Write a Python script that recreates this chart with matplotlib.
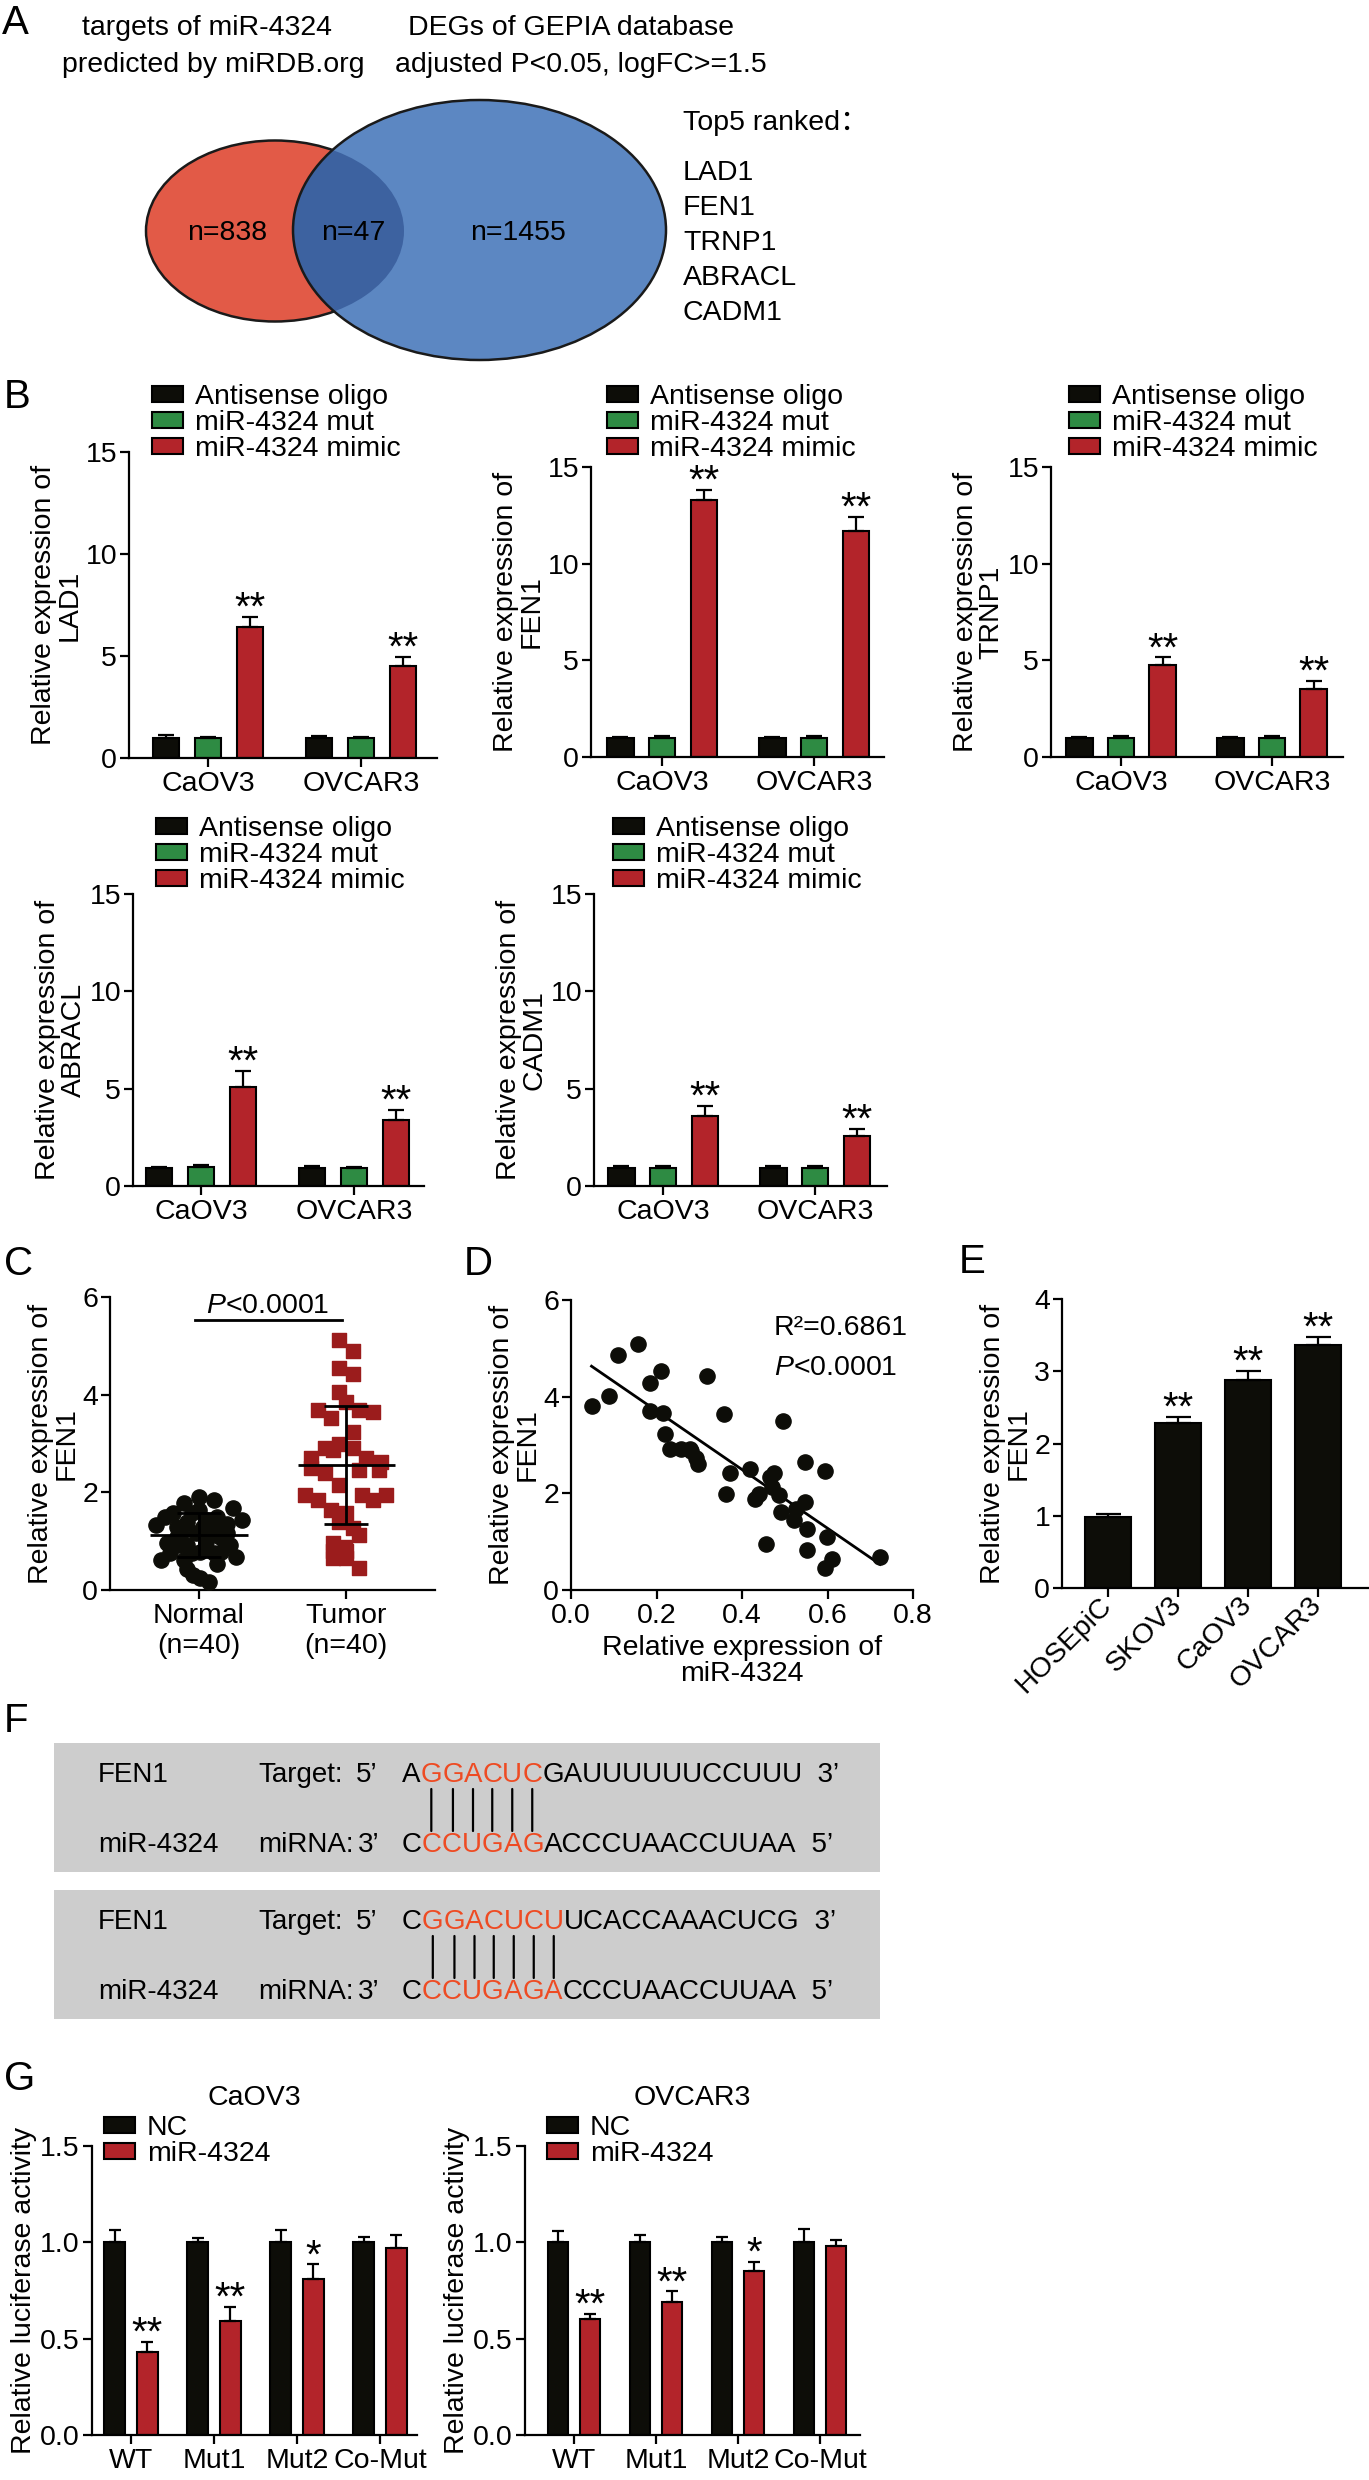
import numpy as np
import matplotlib
matplotlib.use('Agg')
import matplotlib.pyplot as plt
from matplotlib.patches import Ellipse, Rectangle

# ==========================================
# DATA
# ==========================================

venn_titles = ["targets of miR-4324\npredicted by miRDB.org",
               "DEGs of GEPIA database\nadjusted P<0.05, logFC>=1.5"]
venn_counts = [838, 47, 1455]
top5_genes = ["LAD1", "FEN1", "TRNP1", "ABRACL", "CADM1"]

b_groups = ["CaOV3", "OVCAR3"]
b_series = ["Antisense oligo", "miR-4324 mut", "miR-4324 mimic"]
b_genes = ["LAD1", "FEN1", "TRNP1", "ABRACL", "CADM1"]
# rows: antisense, mut, mimic ; columns: CaOV3, OVCAR3
lad1_mean = [[1.0, 0.98], [1.0, 1.0], [6.4, 4.5]]
lad1_err = [[0.12, 0.1], [0.05, 0.05], [0.5, 0.45]]
fen1_mean = [[1.0, 1.0], [1.0, 1.0], [13.3, 11.7]]
fen1_err = [[0.05, 0.05], [0.07, 0.07], [0.5, 0.7]]
trnp1_mean = [[1.0, 1.0], [1.0, 1.0], [4.75, 3.5]]
trnp1_err = [[0.05, 0.05], [0.1, 0.08], [0.4, 0.45]]
abracl_mean = [[0.95, 0.95], [1.0, 0.9], [5.1, 3.4]]
abracl_err = [[0.05, 0.08], [0.08, 0.1], [0.8, 0.5]]
cadm1_mean = [[0.95, 0.95], [0.92, 0.95], [3.6, 2.55]]
cadm1_err = [[0.08, 0.08], [0.1, 0.08], [0.5, 0.4]]

c_groups = ["Normal\n(n=40)", "Tumor\n(n=40)"]
normal_fen1 = [1.91, 1.84, 1.78, 1.67, 1.57, 1.43, 1.33, 1.64, 1.5, 1.4,
               1.36, 1.29, 1.29, 1.16, 1.23, 1.16, 0.96, 0.92, 0.99, 0.92,
               1.09, 0.68, 0.61, 0.61, 0.78, 0.75, 0.75, 0.44, 0.31, 0.24,
               0.17, 0.75, 0.54, 1.09, 1.43, 1.57, 1.16, 1.5, 0.92, 0.78]
normal_jit = [0, 0.1, -0.1, 0.23, -0.18, 0.29, -0.29, 0, 0.12, -0.08,
              0.19, -0.15, 0.03, -0.02, 0.1, -0.12, -0.22, -0.08, 0.05, 0.21,
              0.14, 0.25, -0.26, -0.1, 0.01, 0.1, -0.05, -0.08, -0.04, 0.01,
              0.07, -0.2, 0.12, -0.15, 0.05, -0.05, 0.19, -0.23, -0.13, 0.15]
tumor_fen1 = [5.11, 4.9, 4.54, 4.43, 4.06, 3.86, 3.69, 3.69, 3.65, 3.52,
              3.24, 3.0, 2.9, 2.9, 2.87, 2.7, 2.7, 2.63, 2.49, 2.39,
              2.46, 2.46, 2.15, 1.94, 1.84, 1.94, 1.84, 1.94, 1.64, 1.57,
              1.4, 1.26, 1.13, 0.96, 0.89, 0.65, 0.65, 0.45, 0.79, 0.79]
tumor_jit = [-0.05, 0.045, -0.045, 0.045, -0.045, 0, -0.19, 0.09, 0.185, -0.1,
             0.045, -0.045, -0.146, 0.045, -0.09, -0.236, 0.135, 0.235, -0.236, -0.146,
             0.09, 0.225, -0.045, -0.28, -0.19, 0.11, 0.18, 0.27, -0.1, 0,
             -0.045, 0.045, 0.09, -0.09, -0.01, -0.09, 0, 0.09, -0.09, 0]
c_mean = [1.13, 2.56]
c_sd = [0.45, 1.21]

d_mir = [0.048, 0.089, 0.11, 0.157, 0.184, 0.21, 0.184, 0.215, 0.22, 0.231,
         0.257, 0.278, 0.293, 0.317, 0.28, 0.296, 0.358, 0.373, 0.363, 0.419,
         0.43, 0.44, 0.466, 0.476, 0.47, 0.487, 0.496, 0.491, 0.522, 0.527,
         0.547, 0.547, 0.552, 0.594, 0.599, 0.552, 0.455, 0.61, 0.594, 0.723]
d_fen1 = [3.81, 4.01, 4.87, 5.08, 4.29, 4.53, 3.70, 3.67, 3.22, 2.92,
          2.92, 2.92, 2.74, 4.42, 2.88, 2.61, 3.64, 2.43, 1.99, 2.50,
          1.89, 1.99, 2.33, 2.43, 2.13, 1.96, 3.50, 1.61, 1.44, 1.68,
          2.64, 1.82, 1.27, 2.47, 1.10, 0.82, 0.96, 0.65, 0.45, 0.69]

e_cells = ["HOSEpiC", "SKOV3", "CaOV3", "OVCAR3"]
e_mean = [0.98, 2.29, 2.88, 3.36]
e_err = [0.05, 0.08, 0.13, 0.12]
e_stars = ["", "**", "**", "**"]

f_names = ["FEN1", "miR-4324"]
f_target = [("A", "GGACUC", "GAUUUUUUCCUUU"), ("C", "GGACUCU", "UCACCAAACUCG")]
f_mirna = [("C", "CCUGAG", "ACCCUAACCUUAA"), ("C", "CCUGAGA", "CCCUAACCUUAA")]

g_sites = ["WT", "Mut1", "Mut2", "Co-Mut"]
g_series = ["NC", "miR-4324"]
caov3_nc = [1.0, 1.0, 1.0, 1.0]
caov3_nc_err = [0.065, 0.02, 0.065, 0.03]
caov3_mir = [0.43, 0.59, 0.81, 0.97]
caov3_mir_err = [0.055, 0.075, 0.075, 0.07]
caov3_stars = ["**", "**", "*", ""]
ovcar3_nc = [1.0, 1.0, 1.0, 1.0]
ovcar3_nc_err = [0.06, 0.04, 0.03, 0.07]
ovcar3_mir = [0.6, 0.69, 0.85, 0.98]
ovcar3_mir_err = [0.03, 0.055, 0.05, 0.03]
ovcar3_stars = ["**", "**", "*", ""]

# ==========================================
# STYLE
# ==========================================

W, H = 1369, 2480
FS = 20.5
STAR_FS = 29
BLACK = "#0d0d08"
GREEN = "#2e8b43"
RED = "#b3242a"
SQ_RED = "#9b1c1c"
SEQ_RED = "#ee4b23"

plt.rcParams["font.family"] = ["Liberation Sans", "DejaVu Sans"]
plt.rcParams["mathtext.fontset"] = "custom"
plt.rcParams["mathtext.rm"] = "Liberation Sans"
plt.rcParams["mathtext.it"] = "Liberation Sans:italic"
plt.rcParams["font.size"] = FS
plt.rcParams["axes.linewidth"] = 1.6
plt.rcParams["xtick.major.width"] = 1.6
plt.rcParams["ytick.major.width"] = 1.6
plt.rcParams["xtick.major.size"] = 6.5
plt.rcParams["ytick.major.size"] = 6.5
plt.rcParams["xtick.major.pad"] = 3
plt.rcParams["ytick.major.pad"] = 2

fig = plt.figure(figsize=(W / 100, H / 100), dpi=100)


def px_axes(x0, x1, y0, y1):
    return fig.add_axes([x0 / W, 1 - y1 / H, (x1 - x0) / W, (y1 - y0) / H])


def clean(ax):
    ax.spines["top"].set_visible(False)
    ax.spines["right"].set_visible(False)


def stars(ax, x, top, s):
    if s:
        ax.annotate(s, (x, top), xytext=(0, -2), textcoords="offset points",
                    ha="center", va="baseline", fontsize=STAR_FS)


def letter(x, y, s):
    fig.text(x / W, 1 - y / H, s, fontsize=29, ha="left", va="top")


# ==========================================
# PANEL A
# ==========================================

ax_a = fig.add_axes([0, 1 - 400 / H, 1, 400 / H])
ax_a.set_xlim(0, W)
ax_a.set_ylim(400, 0)
ax_a.axis("off")

red_e = Ellipse((275, 231), 258, 181, facecolor="#e25a47", edgecolor="#1a1a1a", lw=1.8)
blue_e = Ellipse((479.5, 230), 373, 260, facecolor="#5c87c2", edgecolor="none")
mid_e = Ellipse((275, 231), 258, 181, facecolor="#3d62a0", edgecolor="none")
blue_edge = Ellipse((479.5, 230), 373, 260, facecolor="none", edgecolor="#1a1a1a", lw=1.8)
for p in [red_e, blue_e, mid_e, blue_edge]:
    ax_a.add_patch(p)
mid_e.set_clip_path(blue_e)

for cx, lines in zip([(207, 213), (571, 581)], venn_titles):
    for xx, yy, t in zip(cx, [28, 65], lines.split("\n")):
        ax_a.text(xx, yy, t, ha="center", va="center")

for xx, n in zip([227, 353, 518], venn_counts):
    ax_a.text(xx, 233, "n=%d" % n, ha="center", va="center")

ax_a.text(683, 123, "Top5 ranked：", ha="left", va="center",
          family=["Liberation Sans", "Noto Sans CJK SC"])
for i, g in enumerate(top5_genes):
    ax_a.text(683, 173 + 35 * i, g, ha="left", va="center")

# ==========================================
# PANEL B
# ==========================================

# x0, x1, y_top, y_bottom, tick0, tick1, legend_left, legend_top (pixels)
b_layout = [
    (129, 437, 452, 758, 208, 361, 152, 384),
    (591, 884, 467, 757, 662, 814, 607, 384),
    (1051, 1343, 467, 757, 1121, 1272, 1069, 384),
    (133, 424, 894, 1186, 201, 354, 156, 816),
    (594, 887, 894, 1186, 663, 815, 613, 816),
]
b_means = [lad1_mean, fen1_mean, trnp1_mean, abracl_mean, cadm1_mean]
b_errs = [lad1_err, fen1_err, trnp1_err, abracl_err, cadm1_err]
b_colors = [BLACK, GREEN, RED]

for gene, means, errs, lay in zip(b_genes, b_means, b_errs, b_layout):
    x0, x1, yt, yb, t0, t1, lx, ly = lay
    ax = px_axes(x0, x1, yt, yb)
    clean(ax)
    step = t1 - t0
    ax.set_xlim((x0 - t0) / step, (x1 - t0) / step)
    ax.set_ylim(0, 15)
    ax.set_yticks([0, 5, 10, 15])
    xs = np.arange(len(b_groups))
    handles = []
    for k, (m, e, c) in enumerate(zip(means, errs, b_colors)):
        h = ax.bar(xs + (k - 1) * 0.275, m, 0.175, color=c, edgecolor="black", lw=1.5,
                   yerr=[np.zeros(len(e)), e],
                   error_kw=dict(ecolor="black", elinewidth=1.6, capsize=6, capthick=1.6))
        handles.append(h)
    for p, m, e in zip(xs + 0.275, means[2], errs[2]):
        stars(ax, p, m + e, "**")
    ax.set_xticks(xs)
    ax.set_xticklabels(b_groups)
    ax.set_ylabel("Relative expression of\n" + gene, linespacing=1.0, labelpad=2)
    ax.legend(handles, b_series, loc="upper left", bbox_to_anchor=(lx / W, 1 - ly / H),
              bbox_transform=fig.transFigure, frameon=False, borderpad=0, borderaxespad=0,
              handlelength=1.1, handleheight=0.5, handletextpad=0.4, labelspacing=0.0)

# ==========================================
# PANEL C
# ==========================================

ax_c = px_axes(110, 435, 1297, 1590)
clean(ax_c)
ax_c.set_xlim(-0.605, 1.605)
ax_c.set_ylim(0, 6)
ax_c.set_yticks([0, 2, 4, 6])
ax_c.scatter(np.array(normal_jit), normal_fen1, s=120, marker="o", color=BLACK,
             zorder=3, clip_on=False)
ax_c.scatter(1 + np.array(tumor_jit), tumor_fen1, s=110, marker="s", color=SQ_RED,
             zorder=3, clip_on=False)
for i, (m, sd) in enumerate(zip(c_mean, c_sd)):
    ax_c.hlines(m, i - 0.33, i + 0.33, color="black", lw=2, zorder=4)
    ax_c.vlines(i, m - sd, m + sd, color="black", lw=2, zorder=4)
    ax_c.hlines([m - sd, m + sd], i - 0.15, i + 0.15, color="black", lw=2, zorder=4)
ax_c.plot([-0.03, 0.97], [5.53, 5.53], color="black", lw=2)
ax_c.text(0.47, 5.67, r"$\it{P}$<0.0001", ha="center", va="baseline")
ax_c.set_xticks([0, 1])
ax_c.set_xticklabels(c_groups)
ax_c.set_ylabel("Relative expression of\nFEN1", linespacing=1.0, labelpad=2)

# ==========================================
# PANEL D
# ==========================================

ax_d = px_axes(571, 913, 1300, 1590)
clean(ax_d)
ax_d.set_xlim(0, 0.8)
ax_d.set_ylim(0, 6)
ax_d.set_xticks([0.0, 0.2, 0.4, 0.6, 0.8])
ax_d.set_yticks([0, 2, 4, 6])
ax_d.scatter(d_mir, d_fen1, s=120, color=BLACK, zorder=3, clip_on=False)
slope, inter = np.polyfit(d_mir, d_fen1, 1)
xx = np.array([min(d_mir), max(d_mir)])
ax_d.plot(xx, slope * xx + inter, color="black", lw=2)
ax_d.text(0.475, 5.42, "R²=0.6861", ha="left", va="center")
ax_d.text(0.475, 4.6, r"$\it{P}$<0.0001", ha="left", va="center")
ax_d.set_ylabel("Relative expression of\nFEN1", linespacing=1.0, labelpad=2)
ax_d.set_xlabel("Relative expression of\nmiR-4324", linespacing=1.0, labelpad=4)

# ==========================================
# PANEL E
# ==========================================

ax_e = px_axes(1062, 1369, 1299, 1588)
clean(ax_e)
ax_e.set_xlim(-0.66, 3.73)
ax_e.set_ylim(0, 4)
ax_e.set_yticks([0, 1, 2, 3, 4])
xe = np.arange(len(e_cells))
ax_e.bar(xe, e_mean, 0.66, color=BLACK, edgecolor="black", lw=1.5,
         yerr=[np.zeros(len(e_err)), e_err],
         error_kw=dict(ecolor="black", elinewidth=1.6, capsize=9, capthick=1.6))
for p, m, e, s in zip(xe, e_mean, e_err, e_stars):
    stars(ax_e, p, m + e, s)
ax_e.set_xticks(xe)
ax_e.set_xticklabels(e_cells, rotation=45, ha="right", va="center", rotation_mode="anchor")
ax_e.set_ylabel("Relative expression of\nFEN1", linespacing=1.0, labelpad=2)

# ==========================================
# PANEL F
# ==========================================

ax_f = fig.add_axes([0, 1 - 2030 / H, 1, 330 / H])
ax_f.set_xlim(0, W)
ax_f.set_ylim(2030, 1700)
ax_f.axis("off")

F_FS = 20


def seq_line(x, y, parts):
    prev = None
    reds = []
    for txt, col in parts:
        chunks = list(txt) if col == SEQ_RED else [txt]
        for ch in chunks:
            if prev is None:
                prev = ax_f.text(x, y, ch, color=col, fontsize=F_FS, ha="left", va="center")
            else:
                prev = ax_f.annotate(ch, xy=(1, 0), xycoords=prev, ha="left", va="bottom",
                                     color=col, fontsize=F_FS)
            if col == SEQ_RED:
                reds.append(prev)
    return reds


box_tops = [1743, 1890]
for bt, tgt, mir in zip(box_tops, f_target, f_mirna):
    ax_f.add_patch(Rectangle((54, bt), 826, 129, facecolor="#cdcdcd", edgecolor="none"))
    y1 = bt + 32
    y2 = bt + 102
    ax_f.text(98, y1, f_names[0], fontsize=F_FS, ha="left", va="center")
    ax_f.text(98, y2, f_names[1], fontsize=F_FS, ha="left", va="center")
    ax_f.text(258, y1, "Target:", fontsize=F_FS, ha="left", va="center")
    ax_f.text(258, y2, "miRNA:", fontsize=F_FS, ha="left", va="center")
    ax_f.text(356, y1, "5’", fontsize=F_FS, ha="left", va="center")
    ax_f.text(358, y2, "3’", fontsize=F_FS, ha="left", va="center")
    reds = seq_line(402, y1, [(tgt[0], "black"), (tgt[1], SEQ_RED), (tgt[2], "black"),
                              ("  3’", "black")])
    seq_line(402, y2, [(mir[0], "black"), (mir[1], SEQ_RED), (mir[2], "black"),
                       ("  5’", "black")])
    ymid = (y1 + y2) / 2
    for r in reds:
        ax_f.annotate("", xy=(0.5, ymid - 21), xycoords=(r, "data"),
                      xytext=(0.5, ymid + 21), textcoords=(r, "data"),
                      arrowprops=dict(arrowstyle="-", color="black", lw=1.6,
                                      shrinkA=0, shrinkB=0))

# ==========================================
# PANEL G
# ==========================================

# x0, x1, tick0, tick1, legend_left, title_x (pixels)
g_layout = [
    (91.5, 417, 131, 214, 104, 254),
    (524.5, 860, 574, 656, 547, 692),
]
g_cells = ["CaOV3", "OVCAR3"]
g_nc = [caov3_nc, ovcar3_nc]
g_nc_err = [caov3_nc_err, ovcar3_nc_err]
g_mir = [caov3_mir, ovcar3_mir]
g_mir_err = [caov3_mir_err, ovcar3_mir_err]
g_stars = [caov3_stars, ovcar3_stars]

for cell, nc, nce, mir, mire, st, lay in zip(g_cells, g_nc, g_nc_err, g_mir, g_mir_err,
                                            g_stars, g_layout):
    x0, x1, t0, t1, lx, tx = lay
    ax = px_axes(x0, x1, 2146, 2435)
    clean(ax)
    step = t1 - t0
    ax.set_xlim((x0 - t0) / step, (x1 - t0) / step)
    ax.set_ylim(0, 1.5)
    ax.set_yticks([0, 0.5, 1.0, 1.5])
    ax.set_yticklabels(["0.0", "0.5", "1.0", "1.5"])
    xg = np.arange(len(g_sites))
    ekw = dict(ecolor="black", elinewidth=1.6, capsize=4.5, capthick=1.6)
    h1 = ax.bar(xg - 0.195, nc, 0.25, color=BLACK, edgecolor="black", lw=1.5,
                yerr=[np.zeros(len(nce)), nce], error_kw=ekw)
    h2 = ax.bar(xg + 0.195, mir, 0.25, color=RED, edgecolor="black", lw=1.5,
                yerr=[np.zeros(len(mire)), mire], error_kw=ekw)
    for p, m, e, s in zip(xg + 0.195, mir, mire, st):
        stars(ax, p, m + e, s)
    ax.set_xticks(xg)
    ax.set_xticklabels(g_sites)
    ax.set_ylabel("Relative luciferase activity", labelpad=2)
    ax.legend([h1, h2], g_series, loc="upper left", bbox_to_anchor=(lx / W, 1 - 2115 / H),
              bbox_transform=fig.transFigure, frameon=False, borderpad=0, borderaxespad=0,
              handlelength=1.1, handleheight=0.5, handletextpad=0.4, labelspacing=0.0)
    fig.text(tx / W, 1 - 2098 / H, cell, ha="center", va="center")

# ==========================================
# PANEL LETTERS
# ==========================================

letter(2, 4, "A")
letter(4, 378, "B")
letter(4, 1245, "C")
letter(464, 1245, "D")
letter(959, 1243, "E")
letter(4, 1702, "F")
letter(4, 2060, "G")

fig.savefig("out.png", dpi=100)
